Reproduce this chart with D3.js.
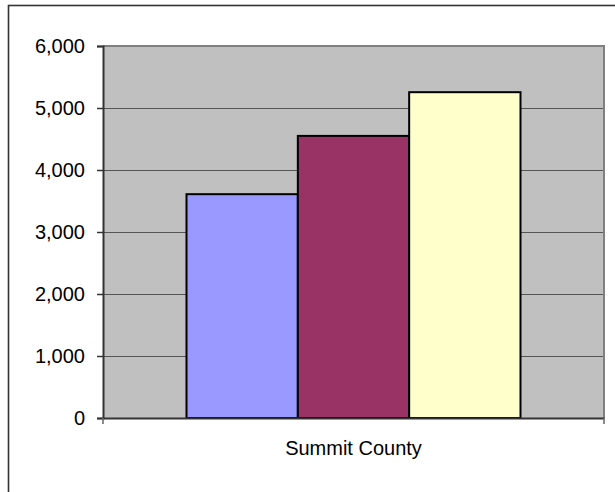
<!DOCTYPE html>
<html>
<head>
<meta charset="utf-8">
<script src="https://cdn.jsdelivr.net/npm/d3@7"></script>
<style>
  html, body { margin: 0; padding: 0; background: #fff; }
  svg { display: block; }
  text { font-family: "Liberation Sans", Arial, sans-serif; fill: #000; }
</style>
</head>
<body>
<svg id="chart" width="615" height="492"></svg>
<script>
// Data
const categories = ["Summit County"];
const seriesNames = ["Series 1", "Series 2", "Series 3"];
const seriesValues = [3610, 4550, 5255];
const seriesColors = ["#9999FF", "#993366", "#FFFFCC"];
const yTicks = [0, 1000, 2000, 3000, 4000, 5000, 6000];

const svg = d3.select("#chart");

// outer chart border (extends past right and bottom edge as in reference)
svg.append("rect")
  .attr("x", 8.5).attr("y", 5.5)
  .attr("width", 700).attr("height", 700)
  .attr("fill", "#fff")
  .attr("stroke", "#333").attr("stroke-width", 1.6);

const plot = { left: 103, right: 604, top: 46, bottom: 418 };

const y = d3.scaleLinear().domain([0, 6000]).range([plot.bottom, plot.top]);
const x0 = d3.scaleBand().domain(categories).range([plot.left, plot.right]).padding(0);
const x1 = d3.scaleBand().domain(seriesNames).range([0, x0.bandwidth()])
  .paddingInner(0).paddingOuter(0.75);

// plot background
svg.append("rect")
  .attr("x", plot.left).attr("y", plot.top)
  .attr("width", plot.right - plot.left).attr("height", plot.bottom - plot.top)
  .attr("fill", "#C0C0C0");

// gridlines
svg.append("g").selectAll("line")
  .data(yTicks.filter(d => d > 0 && d < 6000))
  .join("line")
  .attr("x1", plot.left).attr("x2", plot.right)
  .attr("y1", d => Math.round(y(d)) + 0.5).attr("y2", d => Math.round(y(d)) + 0.5)
  .attr("stroke", "#555").attr("stroke-width", 1);

// plot border (top and right)
svg.append("path")
  .attr("d", `M${plot.left},${plot.top} H${plot.right} V${plot.bottom}`)
  .attr("fill", "none").attr("stroke", "#808080").attr("stroke-width", 2);

// bars
svg.append("g").selectAll("rect")
  .data(seriesValues.map((v, i) => ({ name: seriesNames[i], value: v, color: seriesColors[i], cat: categories[0] })))
  .join("rect")
  .attr("x", d => x0(d.cat) + x1(d.name))
  .attr("y", d => y(d.value))
  .attr("width", x1.bandwidth())
  .attr("height", d => y(0) - y(d.value))
  .attr("fill", d => d.color)
  .attr("stroke", "#000").attr("stroke-width", 2);

// y axis
const yAxis = d3.axisLeft(y).tickValues(yTicks).tickSize(6).tickPadding(12)
  .tickFormat(d3.format(","));
const gy = svg.append("g").attr("transform", `translate(${plot.left},0)`).call(yAxis);
gy.select(".domain").attr("stroke", "#333").attr("stroke-width", 2);
gy.selectAll(".tick line").attr("stroke", "#333").attr("stroke-width", 1.5);
gy.selectAll(".tick text")
  .style("font-family", '"Liberation Sans", Arial, sans-serif')
  .style("font-size", "20px").attr("fill", "#000")
  .attr("dy", "0.3em");

// x axis
const xAxis = d3.axisBottom(x0).tickSize(0).tickPadding(0);
const gx = svg.append("g").attr("transform", `translate(0,${plot.bottom})`).call(xAxis);
gx.select(".domain").attr("stroke", "#333").attr("stroke-width", 2);
gx.selectAll(".tick text")
  .style("font-family", '"Liberation Sans", Arial, sans-serif')
  .style("font-size", "20px").attr("fill", "#000")
  .attr("dy", null).attr("y", 37);
// category boundary ticks
svg.append("g").selectAll("line")
  .data([plot.left, plot.right])
  .join("line")
  .attr("x1", d => d).attr("x2", d => d)
  .attr("y1", plot.bottom).attr("y2", plot.bottom + 6)
  .attr("stroke", "#666").attr("stroke-width", 1.5);
</script>
</body>
</html>
